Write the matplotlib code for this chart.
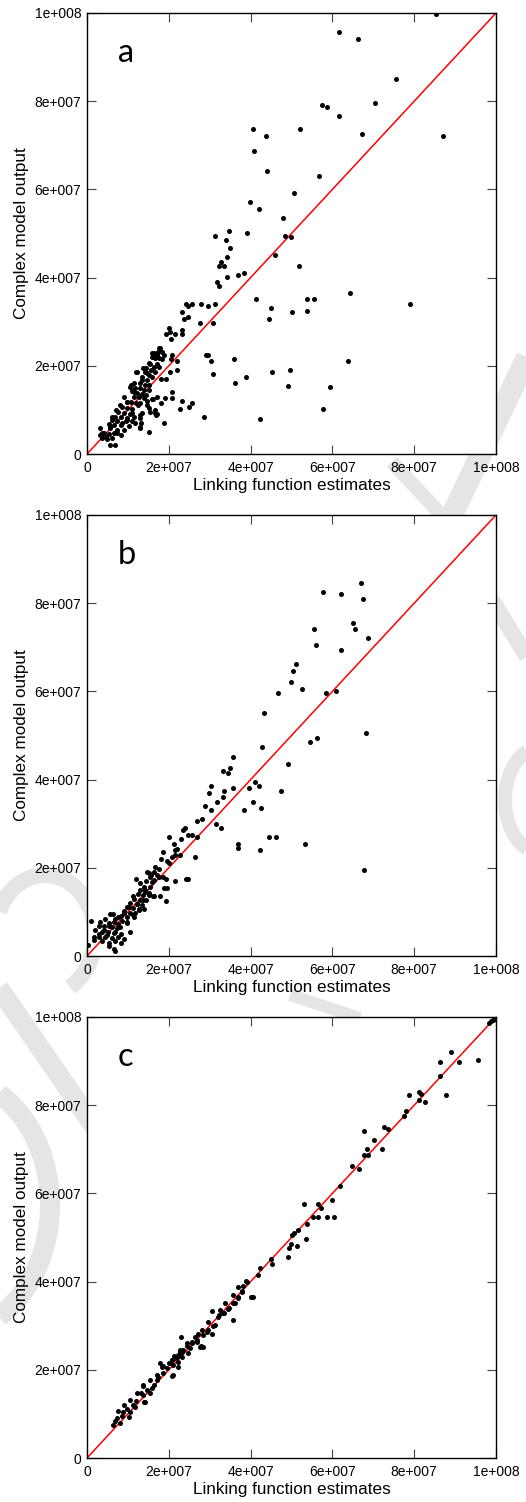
import numpy as np
import matplotlib
matplotlib.use("Agg")
import matplotlib.pyplot as plt

# ---------------- data (values in millions) ----------------
tick_values = [0, 20, 40, 60, 80, 100]
tick_labels = ['0', '2e+007', '4e+007', '6e+007', '8e+007', '1e+008']
panel_letters = ['a', 'b', 'c']
xlabel = 'Linking function estimates'
ylabel = 'Complex model output'

a_x = [85.3,61.5,66.2,75.5,57.4,58.7,70.4,61.6,40.7,43.7,52.0,67.3,87.0,40.9,43.9,56.8,50.7,39.9,42.0,47.8,
       31.4,34.7,39.1,33.9,48.3,49.9,34.9,46.0,34.2,32.7,33.6,32.2,51.9,38.5,36.9,34.3,31.8,32.2,64.2,41.3,
       53.9,55.6,79.0,45.1,53.8,50.2,44.4,24.2,24.8,25.6,27.8,29.7,31.4,23.2,24.8,23.6,27.7,30.8,20.1,23.2,
       20.4,19.3,21.5,23.2,20.5,29.0,29.7,30.3,30.8,35.9,36.3,38.8,45.2,49.6,49.2,59.5,63.8,57.6,42.2,28.6,
       22.8,24.9,25.7,23.2,20.9,20.8,22.1,22.1,20.9,20.6,20.4,18.9,18.4,19.2,18.2,19.0,18.8,18.2,15.2,
       17.7,17.3,18.3,16.3,15.9,16.7,17.5,15.3,17.1,16.3,17.5,14.5,15.6,12.2,14.3,16.7,13.4,15.1,15.9,14.7,
       11.4,13.0,14.3,15.1,10.4,11.8,13.0,14.0,15.1,11.0,12.2,13.4,14.5,11.4,12.6,13.9,17.1,16.1,9.8,10.8,
       12.1,13.0,14.7,8.6,9.8,11.0,15.1,16.7,7.7,9.0,10.6,13.4,15.5,17.1,6.9,8.2,9.8,11.4,13.0,6.1,
       7.3,9.6,11.0,13.2,5.3,6.5,8.2,10.2,13.0,3.3,5.7,7.3,9.0,4.1,5.3,6.5,8.2,3.3,3.7,4.9,
       6.1,5.7,6.9,
       12.1,10.8,9.8,7.2,6.1,8.6,13.0,13.0,11.8,14.7,15.9,16.6,16.9,13.8,15.1,17.1,17.9,15.9,14.7,13.4,
       11.4,9.0,8.1,5.7,3.7,4.7,7.3,9.9,11.0,12.4]
a_y = [99.7,95.7,94.2,85.1,79.1,78.7,79.6,76.6,73.6,72.2,73.6,72.6,72.2,68.6,64.1,63.1,59.1,57.1,55.6,53.6,
       49.5,50.6,50.1,48.6,49.5,49.1,46.6,45.1,44.6,43.6,42.6,42.6,42.6,41.1,40.5,40.1,39.1,38.1,36.6,35.1,
       35.1,35.1,34.0,33.1,32.5,32.1,30.6,34.0,33.5,34.0,34.0,33.5,34.0,32.1,31.0,30.6,29.6,29.6,28.5,28.1,
       27.6,27.2,27.2,27.2,26.0,22.5,22.5,21.0,18.2,21.6,16.0,17.5,18.5,19.1,15.5,15.1,21.0,10.1,8.0,8.5,
       10.1,10.6,11.6,12.0,12.6,14.1,19.1,21.0,22.5,21.6,18.5,22.5,21.6,17.0,17.0,12.6,7.1,11.6,5.0,
       24.0,23.2,23.2,22.8,22.0,21.7,21.7,20.5,20.5,19.8,19.8,19.4,19.1,18.5,18.5,18.7,17.5,17.9,17.5,16.8,
       16.0,16.0,15.7,15.7,15.3,14.9,14.9,14.5,14.4,14.2,13.9,13.6,13.4,13.0,12.9,12.6,13.0,12.4,11.9,11.9,
       11.6,11.5,12.1,10.6,10.4,10.1,10.4,10.0,9.6,9.2,9.1,9.2,9.6,9.1,8.5,8.3,8.1,8.3,8.1,7.7,
       7.4,7.4,7.4,7.1,6.8,6.6,6.6,6.4,6.2,6.0,5.8,5.5,5.4,4.7,4.5,4.8,4.3,4.3,3.6,3.4,
       3.6,2.1,2.1,
       18.7,15.7,11.9,10.0,8.5,7.0,6.0,8.8,7.0,11.2,12.4,9.2,8.8,19.4,20.6,22.5,24.0,23.0,18.3,16.8,
       14.1,13.0,11.1,6.2,4.7,3.9,4.7,7.6,9.2,11.1]

b_x = [66.9,57.7,62.1,67.6,65.1,55.4,65.6,68.6,55.9,62.1,51.2,50.3,49.9,52.5,46.7,58.4,60.8,43.2,68.2,56.2,
       54.6,42.9,35.8,35.0,33.3,34.4,49.1,41.1,42.1,39.6,35.8,30.4,29.8,33.6,47.5,33.2,31.7,40.5,28.9,30.4,
       38.4,42.5,31.6,32.7,28.0,26.9,27.0,44.5,46.1,37.0,37.0,53.3,42.3,67.8,26.3,24.0,23.4,24.8,25.6,22.9,
       20.0,21.3,21.5,18.7,22.7,20.8,19.5,18.2,20.1,21.6,24.2,24.7,19.4,17.9,18.9,19.6,18.7,16.1,11.9,1.1,
       0.3,6.9,6.5,8.4,10.4,
       16.7,17.5,16.3,15.1,17.0,15.5,14.5,15.9,13.9,15.3,13.0,14.3,12.4,13.7,15.1,16.3,11.4,13.0,14.5,10.6,
       12.2,13.4,9.8,11.2,12.6,14.0,9.0,10.4,11.8,5.7,6.3,8.2,9.8,11.4,4.5,6.9,8.6,3.3,5.3,7.7,
       9.8,2.9,4.1,6.1,7.3,2.0,3.7,5.1,6.5,8.2,1.6,2.9,4.5,6.1,7.7,9.1,3.7,5.3,6.9,5.5,
       21.4,22.0,19.2,
       14.7,15.6,13.0,14.1,11.2,12.2,10.2,9.1,7.7,6.5,5.3,4.1,2.9,1.6,4.9,6.9,8.1,9.8,11.2,12.6,
       13.8,15.2,16.4,17.5]
b_y = [84.6,82.5,82.1,81.0,75.6,74.1,74.1,72.0,70.6,69.5,66.1,64.6,62.1,60.5,59.6,59.6,60.1,55.0,50.5,49.5,
       48.5,47.5,45.1,42.6,42.0,41.6,43.5,39.5,38.6,38.0,38.0,38.6,37.0,37.5,37.5,36.0,35.0,35.0,34.0,33.0,
       33.0,33.5,30.0,29.0,31.0,30.5,27.0,27.0,27.0,25.5,24.5,25.5,24.0,19.5,22.5,29.0,28.5,27.5,27.5,26.5,
       27.0,25.5,24.0,23.5,23.0,22.5,21.5,22.0,21.0,17.0,17.5,17.5,12.5,13.5,15.5,15.5,18.0,13.5,17.5,8.0,
       2.5,1.2,1.7,3.0,5.4,
       20.1,19.7,19.1,18.9,18.4,18.0,16.9,16.7,15.7,15.7,15.0,14.6,14.1,13.8,14.2,13.5,12.9,12.7,12.7,12.0,
       11.8,11.6,11.1,10.8,10.6,10.6,10.1,9.8,9.7,9.5,9.5,9.1,8.8,8.9,8.5,8.3,8.0,7.7,7.5,7.3,
       7.4,6.8,6.7,6.5,6.3,5.9,5.5,5.5,5.3,5.1,4.4,4.2,4.2,4.0,4.4,3.8,3.3,2.9,3.5,2.2,
       22.9,24.3,17.4,
       19.1,18.4,16.5,15.0,13.5,11.9,11.2,9.7,8.9,7.6,6.7,5.9,5.1,3.6,4.7,5.4,6.6,7.8,9.4,10.5,
       12.7,13.8,17.2,17.9]

c_x = [98.2,98.7,99.3,99.7,88.9,86.4,91.0,95.5,86.2,78.8,87.8,81.1,81.6,81.2,82.7,78.0,77.4,72.7,73.5,67.7,
       70.2,68.4,72.2,67.7,68.6,64.7,66.4,61.8,53.0,56.4,59.8,57.1,55.2,56.4,58.7,60.3,53.9,53.6,51.3,51.5,
       50.7,50.2,49.8,49.3,49.2,45.0,45.2,42.3,41.8,
       6.4,6.8,7.3,8.1,8.9,8.5,9.7,10.5,10.3,11.3,11.7,12.1,13.2,13.8,14.6,14.2,15.4,15.8,16.5,17.8,
       18.4,17.4,18.7,19.5,20.3,21.1,20.7,21.5,22.3,23.2,17.0,13.8,
       39.0,38.2,37.0,37.8,35.8,37.0,40.1,40.7,36.2,33.7,34.5,32.5,33.3,30.6,35.8,32.1,29.7,31.3,28.0,29.3,
       27.2,28.4,30.5,23.0,26.4,25.6,26.8,24.4,27.6,28.4,23.5,25.2,24.8,22.7,21.9,23.2,20.7,22.2,21.1,22.3,
       24.4,25.7,26.9,27.9,29.5,30.9,32.2,33.4,34.6,35.8,36.8,37.9,22.8,21.2,20.0,18.7,17.1,15.5,13.8,12.2,
       10.6,9.1,7.7,20.8,14.0,38.9]
c_y = [98.6,99.0,99.4,99.6,92.1,89.7,89.7,90.2,86.6,82.2,82.2,83.1,82.6,81.1,80.7,78.6,77.6,75.1,74.6,74.2,
       72.1,70.1,70.1,68.6,68.6,66.1,65.6,61.6,57.7,57.7,58.6,56.6,54.6,54.6,54.6,54.6,53.1,49.6,48.1,51.6,
       51.0,50.6,48.6,47.6,45.6,45.1,44.1,43.1,41.6,
       7.5,8.5,9.0,8.0,10.5,9.5,11.0,10.5,9.2,12.0,11.6,13.0,14.7,14.3,15.4,12.8,14.7,15.8,16.6,21.5,
       20.7,18.4,19.2,20.3,21.5,18.8,22.2,22.6,23.4,24.1,17.7,16.6,
       40.0,39.0,38.8,37.7,37.0,36.6,36.6,36.6,35.1,35.1,33.7,33.6,32.8,33.4,31.4,31.9,30.9,30.2,29.0,28.6,
       28.1,27.9,28.1,27.5,27.4,26.4,26.4,26.0,25.2,25.1,24.6,24.9,23.9,24.1,23.0,23.0,22.2,21.8,21.1,20.7,
       25.3,26.1,26.8,25.3,29.1,29.9,32.5,32.9,34.0,35.1,36.3,37.8,24.6,23.1,21.5,20.8,18.9,17.8,16.3,14.7,
       13.2,12.1,10.6,18.5,12.6,40.1]

panels = [(a_x, a_y), (b_x, b_y), (c_x, c_y)]

# ---------------- figure ----------------
W, H = 526, 1502
fig = plt.figure(figsize=(W / 100, H / 100), dpi=100)
fig.patch.set_facecolor('white')

# faint background watermark strokes (decoration, figure pixel coords)
bg = fig.add_axes([0, 0, 1, 1], zorder=-10)
bg.set_xlim(0, W)
bg.set_ylim(H, 0)
bg.axis('off')
wm = '#e5e5e5'
def stroke(xs, ys, lw_px):
    bg.plot(xs, ys, color=wm, lw=lw_px * 0.72, solid_capstyle='butt')
stroke([540, 452], [330, 515], 22)
stroke([392, 448], [462, 522], 14)
stroke([492, 532], [600, 665], 16)
t = np.radians(np.linspace(100, 260, 40))
stroke(545 + 40 * np.cos(t), 800 - 55 * np.sin(t), 14)
t = np.radians(np.linspace(190, -60, 60))
stroke(45 + 50 * np.cos(t), 935 - 60 * np.sin(t), 16)
stroke([-10, 100], [975, 1135], 20)
t = np.radians(np.linspace(85, -85, 60))
stroke(-55 + 105 * np.cos(t), 1205 - 130 * np.sin(t), 20)
stroke([290, 360], [995, 1018], 12)

left = 87 / W
width = 409 / W
height = 441 / H
tops = [13, 515, 1017]

font = ['Liberation Sans', 'DejaVu Sans']
for (xs, ys), letter, top in zip(panels, panel_letters, tops):
    bottom = 1 - (top + 441) / H
    ax = fig.add_axes([left, bottom, width, height], zorder=1)
    ax.set_facecolor('white')
    ax.plot([0, 1e8], [0, 1e8], color='#ff0000', lw=1.1, zorder=2)
    ax.scatter(np.array(xs) * 1e6, np.array(ys) * 1e6, s=13, c='black',
               linewidths=0, zorder=3)
    ax.set_xlim(0, 1e8)
    ax.set_ylim(0, 1e8)
    ticks = [v * 1e6 for v in tick_values]
    ax.set_xticks(ticks)
    ax.set_yticks(ticks)
    ax.set_xticklabels(tick_labels, fontsize=10, family=font)
    ax.set_yticklabels(tick_labels, fontsize=10, family=font)
    ax.tick_params(direction='in', length=6.5, width=0.8, color='#444444',
                   top=True, right=True, pad=4)
    ax.tick_params(axis='x', pad=5)
    for sp in ax.spines.values():
        sp.set_linewidth(1.0)
        sp.set_color('black')
    ax.set_xlabel(xlabel, fontsize=12.3, family=font, labelpad=2)
    ax.set_ylabel(ylabel, fontsize=12.3, family=font, labelpad=4)
    ax.text(0.076, 0.89, letter, transform=ax.transAxes, fontsize=23.5,
            family=['Lato', 'DejaVu Sans'], va='baseline', ha='left', zorder=4)

fig.savefig('out.png', dpi=100, facecolor='white')
